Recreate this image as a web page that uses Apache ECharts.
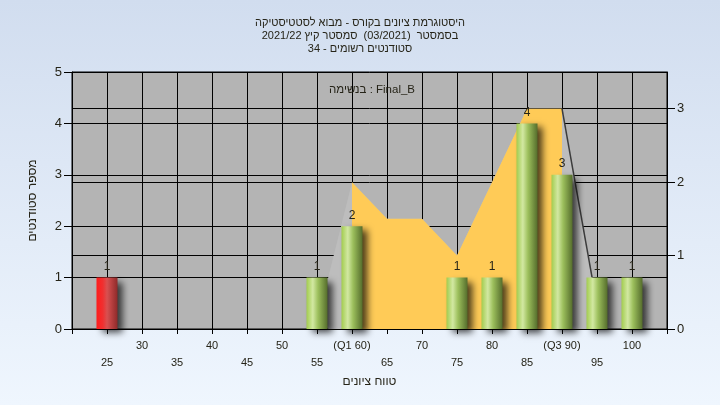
<!DOCTYPE html>
<html>
<head>
<meta charset="utf-8">
<script src="https://cdn.jsdelivr.net/npm/echarts@6/dist/echarts.min.js"></script>
<style>
html,body{margin:0;padding:0;}
#c{width:720px;height:405px;}
</style>
</head>
<body>
<div id="c"></div>
<script>
// ---- data ----
const titleLines = ['היסטוגרמת ציונים בקורס - מבוא לסטטיסטיקה', 'בסמסטר  (03/2021)  סמסטר קיץ 2021/22', 'סטודנטים רשומים - 34'];
const subTitle = 'בנשימה : Final_B';
const xAxisName = 'טווח ציונים';
const yAxisName = 'מספר סטודנטים';
const xTickValues = [25, 30, 35, 40, 45, 50, 55, 60, 65, 70, 75, 80, 85, 90, 95, 100];
const xTickLabels = ['25', '30', '35', '40', '45', '50', '55', '(Q1 60)', '65', '70', '75', '80', '85', '(Q3 90)', '95', '100'];
const gradeBins = [25, 55, 60, 75, 80, 85, 90, 95, 100];
const studentCounts = [1, 1, 2, 1, 1, 4, 3, 1, 1];
const areaX = [60, 65, 70, 75, 80, 85, 90];
const areaY = [2, 1.5, 1.5, 1, 2, 3, 3];
const shadowX = [56.6, 60, 65, 70, 75, 80, 85, 90, 94.3];
const shadowY = [0.7, 2, 1.5, 1.5, 1, 2, 3, 3, 0.7];
const edgeX = [90, 94.3];
const edgeY = [3, 0.7];
const rightTicks = [0, 1, 2, 3];

const FONT = 'Liberation Sans, Arial, sans-serif';
const TXT = '#262418';
const zip = (a, b) => a.map((v, i) => [v, b[i]]);

const greenGrad = new echarts.graphic.LinearGradient(0, 0, 1, 0, [
  {offset: 0, color: '#a2cc4e'},
  {offset: 0.3, color: '#d2e8a2'},
  {offset: 0.55, color: '#9cbf5c'},
  {offset: 1, color: '#556d2c'}
]);
const redGrad = new echarts.graphic.LinearGradient(0, 0, 1, 0, [
  {offset: 0, color: '#ff1c1c'},
  {offset: 0.3, color: '#f03030'},
  {offset: 0.5, color: '#d85050'},
  {offset: 1, color: '#8e2a2a'}
]);

const chart = echarts.init(document.getElementById('c'), null, {renderer: 'canvas'});
chart.setOption({
  backgroundColor: new echarts.graphic.LinearGradient(0, 0, 0, 1, [
    {offset: 0, color: '#d1ddef'},
    {offset: 1, color: '#eff6fe'}
  ]),
  animation: false,
  title: [
    {
      text: titleLines.join('\n'),
      left: 'center', top: 11,
      textStyle: {fontFamily: FONT, fontSize: 11, fontWeight: 'normal', color: TXT, lineHeight: 13}
    },
    {
      text: subTitle,
      left: 367, top: 79, textAlign: 'center',
      textStyle: {fontFamily: FONT, fontSize: 11.5, fontWeight: 'normal', color: TXT}
    }
  ],
  grid: {
    left: 72, right: 53, top: 72, bottom: 76,
    show: true, backgroundColor: '#b4b4b4', borderColor: '#000', borderWidth: 1
  },
  xAxis: {
    type: 'value', min: 20, max: 105, interval: 5,
    name: xAxisName, nameLocation: 'middle', nameGap: 47,
    nameTextStyle: {fontFamily: FONT, fontSize: 12, color: TXT},
    axisLine: {show: true, lineStyle: {color: '#000'}},
    axisTick: {show: true, length: 5, lineStyle: {color: '#000'}},
    splitLine: {show: true, lineStyle: {color: '#000', width: 1}},
    axisLabel: {
      fontFamily: FONT, fontSize: 11, color: TXT, margin: 8, lineHeight: 17,
      showMinLabel: true, showMaxLabel: true,
      formatter: function (v) {
        const i = xTickValues.indexOf(v);
        if (i < 0) return '';
        return (i % 2 === 0 ? '\n' : '') + xTickLabels[i];
      }
    }
  },
  yAxis: [
    {
      type: 'value', min: 0, max: 5, interval: 1,
      name: yAxisName, nameLocation: 'middle', nameGap: 33, nameRotate: 90,
      nameTextStyle: {fontFamily: FONT, fontSize: 12, color: TXT},
      axisLine: {show: true, lineStyle: {color: '#000'}},
      axisTick: {show: true, length: 8, lineStyle: {color: '#000'}},
      splitLine: {show: true, lineStyle: {color: '#000', width: 1}},
      axisLabel: {fontFamily: FONT, fontSize: 13, color: TXT, margin: 10}
    },
    {
      type: 'value', min: 0, max: 3.5, interval: 1, position: 'right',
      axisLine: {show: true, lineStyle: {color: '#000'}},
      axisTick: {show: true, length: 8, lineStyle: {color: '#000'}, customValues: rightTicks},
      splitLine: {show: true, lineStyle: {color: '#000', width: 1}},
      axisLabel: {
        fontFamily: FONT, fontSize: 13, color: TXT, margin: 10, customValues: rightTicks,
        formatter: v => (v % 1 === 0 ? String(v) : '')
      }
    }
  ],
  series: [
    {
      type: 'line', yAxisIndex: 1, z: 1, symbol: 'none', silent: true,
      data: zip(shadowX, shadowY),
      lineStyle: {opacity: 0},
      areaStyle: {color: '#bdbdbd', opacity: 1}
    },
    {
      type: 'line', yAxisIndex: 1, z: 2, symbol: 'none', silent: true,
      data: zip(areaX, areaY),
      lineStyle: {opacity: 0},
      areaStyle: {color: '#ffcb57', opacity: 1}
    },
    {
      type: 'line', yAxisIndex: 1, z: 3, symbol: 'none', silent: true,
      data: zip(edgeX, edgeY),
      lineStyle: {color: '#3c3c3c', width: 1.5}
    },
    {
      type: 'bar', yAxisIndex: 0, z: 4, barWidth: 21,
      data: zip(gradeBins, studentCounts),
      itemStyle: {
        color: p => (p.value[0] < 55 ? redGrad : greenGrad),
        shadowColor: 'rgba(0,0,0,0.7)', shadowBlur: 7, shadowOffsetX: 5, shadowOffsetY: 4
      },
      label: {
        show: true, position: 'top', distance: 5,
        fontFamily: FONT, fontSize: 12, color: TXT,
        formatter: p => String(p.value[1])
      }
    }
  ]
});
</script>
</body>
</html>
